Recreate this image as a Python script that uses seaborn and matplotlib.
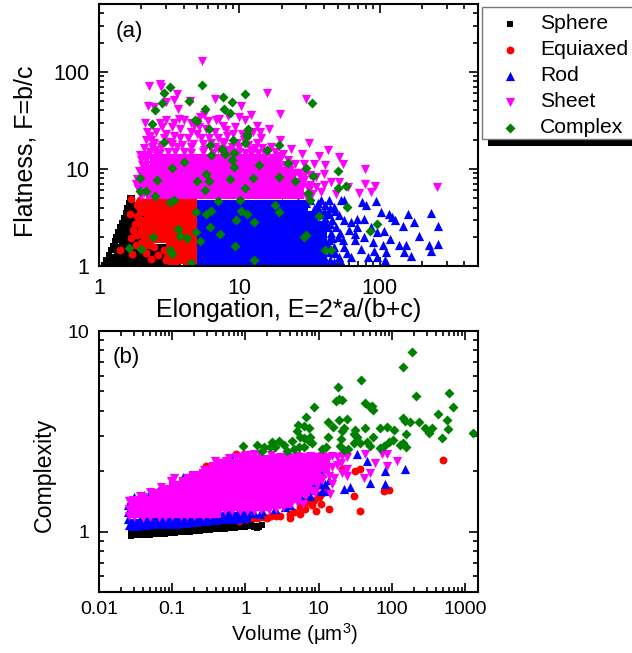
import matplotlib
matplotlib.use("Agg")
import matplotlib.pyplot as plt
import pandas as pd
import seaborn as sns
from matplotlib.patches import Rectangle
from matplotlib.ticker import FormatStrFormatter, LogLocator, NullFormatter

# Panel (a): (elongation, flatness). The *_CORE lists are the saturated parts of
# each cloud, where thousands of points overlap; they get a bigger square marker.
A_SPHERE_CORE = [(1.3,1.12),(1.55,1.12),(1.85,1.12),(2.2,1.12),(2.6,1.12),(3.05,1.12),(3.5,1.12),
    (1.42,1.45),(1.7,1.45),(2.0,1.45),(2.35,1.45),(2.7,1.45),(3.1,1.45),(1.52,1.9),(1.8,1.9),(2.1,1.9),
    (1.6,2.45),(1.9,2.45),(1.7,3.15),(1.95,3.15),(1.8,3.9)]
A_SPHERE = [(1.09,1.03),(1.12,1.15),(1.17,1.3),(1.21,1.45),(1.25,1.62),(1.29,1.8),(1.33,2.0),
    (1.37,2.25),(1.41,2.5),(1.46,2.8),(1.5,3.15),(1.55,3.55),(1.59,4.0),(1.63,4.5),(1.67,5.0),
    (1.72,4.7),(1.75,4.2),(1.2,1.05),(1.24,1.25),(1.3,1.55),(1.38,1.85),(1.45,2.3),(1.52,2.7),
    (1.58,3.4),(1.66,4.3),(1.63,3.1),(1.68,3.7),(1.72,5.0)]
A_EQUI_CORE = [(2.3,4.2),(2.75,4.2),(3.3,4.2),(3.95,4.2),(4.5,4.2),(2.3,3.3),(2.75,3.3),(3.3,3.3),
    (3.95,3.3),(4.5,3.3),(2.3,2.6),(2.75,2.6),(3.3,2.6),(3.95,2.6),(4.5,2.6),(2.3,2.0),(2.75,2.0),
    (3.3,2.0),(3.95,2.0),(4.5,2.0),(3.3,1.55),(3.95,1.55),(4.5,1.55),(3.6,1.2),(4.1,1.2),(4.5,1.2)]
A_EQUI = [(1.69,4.9),(1.93,4.56),(1.66,3.43),(1.74,2.35),(1.69,1.94),(1.9,2.84),(1.99,2.24),
    (1.83,1.65),(1.41,1.46),(1.72,1.33),(2.16,1.36),(1.99,1.72),(2.34,1.18),(3.0,1.15),(3.26,1.07),
    (3.7,1.15),(2.63,1.3),(2.46,1.57),(2.23,3.2),(2.09,3.78),(2.1,4.6),(1.95,3.9),(2.05,2.9),
    (2.3,1.65),(2.9,1.45),(3.05,1.25),(3.5,1.05),(4.2,1.05),(4.6,1.05),(2.1,2.0),(1.85,2.1),(2.15,1.65),
    (2,4.3),(2,3.6),(2,3),(2,2.5),(1.85,4.2),(1.85,3.3),(1.8,2.7),(2.1,2.45),(2.15,1.9),(1.95,4.8),(2.15,4.2)]
A_ROD_CORE = [(5.5,4.15),(6.6,4.15),(7.9,4.15),(9.5,4.15),(11.4,4.15),(13.7,4.15),(16.4,4.15),(19.7,4.15),(23.6,4.15),(28,4.15),
    (5.5,3.2),(6.6,3.2),(7.9,3.2),(9.5,3.2),(11.4,3.2),(13.7,3.2),(16.4,3.2),(19.7,3.2),(23.6,3.2),(28,3.2),(33,3.2),
    (5.5,2.5),(6.6,2.5),(7.9,2.5),(9.5,2.5),(11.4,2.5),(13.7,2.5),(16.4,2.5),(19.7,2.5),(23.6,2.5),(28,2.5),(33,2.5),(38,2.5),
    (5.5,1.92),(6.6,1.92),(7.9,1.92),(9.5,1.92),(11.4,1.92),(13.7,1.92),(16.4,1.92),(19.7,1.92),(23.6,1.92),(28,1.92),(33,1.92),(38,1.92),
    (5.5,1.48),(6.6,1.48),(7.9,1.48),(9.5,1.48),(11.4,1.48),(13.7,1.48),(16.4,1.48),(19.7,1.48),(23.6,1.48),(28,1.48),(33,1.48),(38,1.48),
    (5.5,1.14),(6.6,1.14),(7.9,1.14),(9.5,1.14),(11.4,1.14),(13.7,1.14),(16.4,1.14),(19.7,1.14),(23.6,1.14),(28,1.14),(33,1.14),(38,1.14)]
A_ROD = [(5.3,4.35),(6,4.4),(7,4.3),(8,4.4),(9.2,4.35),(10.5,4.4),(12,4.3),(13.5,4.4),(15.5,4.35),(17.5,4.4),
    (20,4.5),(23,4.4),(26,4.6),(30,4.5),(75,4.57),(79.6,4.22),(94,4.64),(102,3.6),(116,3.46),(123,3.2),(128,2.96),
    (159,3.46),(231,3.52),(174,2.84),(145,2.59),(260,2.59),(190,2.02),(260,1.7),(224,1.66),(231,1.43),(137,1.63),
    (153,1.63),(149,1.39),(166,1.26),(107,2.28),(95,2.24),(118,1.88),(106,1.63),(110,1.39),(109,1.16),(96,1.24),
    (91,1.43),(90,1.77),(77,1.99),(86,2.52),(77,3.08),(69,3.08),(62,2.84),(69,2.52),(60,2.33),(67,2.15),(67,1.84),
    (73,1.51),(62,1.24),(82,1.24),(56,1.57),(52.6,4.75),(43.6,4.75),(56,4.75),(51,3.33),(56,2.96),(48.5,2.52),
    (50,1.99),(47,1.57),(51,1.24),(43.6,3.46),(43.6,1.84),(40,1.24),(38,4.75),(40,2.96),(32,4.75),(36,4.0),(40,3.7),
    (45,2.2),(44,1.4),(42,2.5),(46,3.0),(47,4.1),(52,2.2),(55,1.85),(58,1.35),(38,3.4),(34,3.9),(40,1.1),(47,1.1),
    (36,4.5),(41,4.2),(44,4.0),(48,3.7),(35,3.6),(41,3.1),(44,2.7),(46,1.95),(43,1.65),(48,1.35),(44,1.15),(53,1.1)]
A_SHEET_CORE = [(2.4,5.6),(2.9,5.6),(3.5,5.6),(4.2,5.6),(5,5.6),(6,5.6),(7.2,5.6),(8.6,5.6),(10.4,5.6),(12.4,5.6),(15,5.6),(18,5.6),(21.5,5.6),(26,5.6),
    (2.4,7.3),(2.9,7.3),(3.5,7.3),(4.2,7.3),(5,7.3),(6,7.3),(7.2,7.3),(8.6,7.3),(10.4,7.3),(12.4,7.3),(15,7.3),(18,7.3),(21.5,7.3),(26,7),
    (2.4,9.5),(2.9,9.5),(3.5,9.5),(4.2,9.5),(5,9.5),(6,9.5),(7.2,9.5),(8.6,9.5),(10.4,9.5),(12.4,9.5),(15,9.5),(18,9.5),(21.5,9),
    (2.55,12.3),(2.9,12.3),(3.5,12.3),(4.2,12.3),(5,12.3),(6,12.3),(7.2,12.3),(8.6,12.3),(10.4,12.3),(12.4,12.3),(15,11.2),(18,10.5)]
A_SHEET = [(5.45,129),(2.27,71),(2.72,75.6),(2.78,69),(3.6,59),(3.4,51),(3,49),(2.24,44),(2.47,43),(3.66,41),(4.43,50),
    (6.7,52),(10.3,45),(15.6,60),(29.7,52),(19.6,37),(5.6,36),(9.9,34.4),(6.78,31.9),(2.11,30),(3,32),(3.42,30),(4,32),
    (4.75,28),(5.8,26),(7.6,28),(9.3,27),(13.4,28),(16.2,26),(2.83,27),(2.53,24),(2.2,24),(3,23),(3.8,26),(4.5,24),
    (5.16,27),(6.1,21),(7,21),(8.2,22),(11.7,22),(14.2,21),(19.5,20),(31.4,18.5),(23.3,15.9),(28,14.2),(36.9,13.6),
    (42.9,15.6),(51,13.3),(54.6,11.2),(78.6,10),(41,10.9),(34,11.3),(29,11.3),(25,11.3),(32,8.6),(40,8.9),(51,7.3),
    (44.6,7.3),(40,6.8),(78.6,7.06),(93,6.6),(87,5.8),(71,5.65),(59,6.5),(49,5.55),(257,6.5),(38,5.8),(31.4,6),
    (1.96,13.8),(1.98,12.3),(2.15,13.3),(2.03,10.9),(1.88,7.9),(1.82,7.06),(1.93,9.5),(2.47,18.3),(2.15,19.7),(2.33,19.7),
    (2.75,16.8),(3.2,19),(3.8,21),(5.3,21),(10.8,19.7),(13.4,18.3),(16.7,16.8),(20.3,14.4),(22,12.3),(17.7,12.3),(15,15),
    (6.25,18.3),(9.6,18.3),(7.78,18.3),(4.5,16.8),(3.6,16.8),(5.6,15.6),(12,15.6),(8.2,15.6),(7,16.2),(23,9.7),(26.7,9),
    (30.6,6.5),(24,7),(29.4,9),(35,8.2),(23.3,7.6),(2.1,6.5),(2.27,5.55),(2.15,8.2),(2,5.2),(2.5,15.5),(3.1,15),(4,15),
    (6.5,14.5),(9,14.5),(11,14.5),(14,13),(16,12),(19,10.5),(21,9.5),(27,7),(26,5.5),(30,5.3),(33,5.5),(29,7.6),
    (2.4,17),(2.8,17.5),(3.3,18),(3.9,17.5),(4.7,18),(5.5,18),(6.7,17),(7.5,19),(8.8,17),(10,17),(11.5,17.5),(13,16.5),
    (14.5,16.5),(16,15),(18,15),(19,13.5),(2.3,15),(2.7,14.5),(3.5,14.8),(4.5,14.5),(5.5,14.8),(7.5,14.5),(8.5,15),(10,14.8),
    (12,14.2),(13.5,14.5),(15,13),(17,13),(19,12),(21,11),(23,11),(25,9),(27,8.2),(24,8.5),(28,6.5),(32,6.8),(35,6.5),
    (2.9,21),(3.4,22),(4.3,21),(5,23),(6.7,24),(8,25),(9,23),(10.5,23),(12.5,24),(14,24),(2.3,22),(2.7,30),(3.3,27),(3.7,33),
    (4.5,30),(5.2,34),(6,31),(7.2,33),(8.3,35),(11,32),(12,36),(2.1,16.5),(2.05,8.5),(2.1,9.5),(2.05,7.2),(2.15,11),(2.15,12.5),
    (1.9,6.2),(2,6.8),(2.1,5.6),(2.2,7.3),(2.25,9.7),(2.25,14),(2.6,13.5),(15,11.5),(16.5,10.5),(18,11),(20,9.5),(22,8.4),(24,6.2)]
A_COMPLEX = [(5.4,74),(3.2,69.5),(2.9,61),(11,59),(2.83,48),(4.4,50),(7.7,55),(8.8,49),(33,48),(2.52,40),(5.7,41),(7.8,41),
    (8.5,38),(2.4,29),(4.84,32),(5,31),(6.1,25.6),(11.5,26),(11.3,23),(11.4,22),(9,20),(2.9,19),(11,18.5),(19.2,17.7),
    (6.15,17.5),(7.5,16.2),(15.6,15.7),(7.9,14.4),(6.3,14),(9.2,14.6),(8.8,12.3),(4,11.7),(22,11.6),(13.8,11),(9.1,10.4),
    (3.3,10.2),(30,10.2),(50.6,9.5),(5.8,8.8),(1.95,8.1),(12.5,8.1),(19,8.2),(33.5,8.5),(2.6,7.6),(5,7.5),(6.1,7.5),(8.5,7.8),
    (25,7.5),(1.95,5.9),(2.17,5.9),(2.5,5.3),(5.7,6),(10.9,6.3),(50,6.4),(57.7,6.6),(30.6,5.65),(3.2,4.6),(3.4,4.8),(7,4.7),
    (10.1,4.8),(17.8,4.3),(31.7,4.8),(58.8,4.05),(4.9,3.6),(5.75,3.46),(6.3,3.66),(10.3,3.7),(11.4,3.4),(19.2,3.63),(37,3.27),
    (9.5,3),(12.8,2.84),(3.66,2.4),(6.15,2.52),(95,2.69),(85,2.28),(4.9,2.24),(7.3,2.15),(3.8,2.02),(4.25,1.96),(2.44,2),
    (5.25,1.81),(29,1.99),(30,2.07),(9.3,1.6),(40.6,1.46),(44.6,1.45),(1.64,1.53),(2,1.5),(3.2,1.47),(3.3,1.34),(12.8,1.14),(4.5,1.08)]

# Panel (b): (volume, complexity)
B_SPHERE = [(.027,.955),(.0316,.957),(.037,.96),(.043,.963),(.05,.966),(.059,.97),(.069,.973),(.08,.977),(.094,.981),(.11,.985),
    (.129,.99),(.15,.995),(.176,1.0),(.206,1.004),(.24,1.01),(.28,1.015),(.33,1.02),(.386,1.025),(.45,1.03),(.53,1.036),(.62,1.042),
    (.72,1.048),(.85,1.055),(1.0,1.06),(1.15,1.065),
    (.027,1.0),(.0316,1.005),(.037,1.008),(.043,1.011),(.05,1.014),(.059,1.018),(.069,1.022),(.08,1.026),(.094,1.03),(.11,1.034),
    (.129,1.04),(.15,1.045),(.176,1.05),(.206,1.054),(.24,1.06),(.28,1.066),(.33,1.071),(.386,1.076),(.45,1.08),(.53,1.088),(.62,1.094),
    (.72,1.1),(.85,1.108),(1.0,1.113),(1.15,1.118),(1.4,1.07),(1.52,1.05),(1.69,1.08),(1.44,1.04),(1.2,1.09),(1.3,1.06)]
B_EQUI = [(504,2.28),(92,1.62),(78.6,1.6),(30,1.5),(37,1.26),(37,2.05),(31.6,2.01),(21,2.05),(13.8,1.3),(9.3,1.26),(10.6,1.38),
    (10,1.48),(8.6,1.43),(6.6,1.3),(5.6,1.23),(4.1,1.17),(4.1,1.22),(4.6,1.25),(2.2,1.19),(1.78,1.18),(1.44,1.17),(1.17,1.17),
    (.81,1.13),(.29,2.13),(.75,2.43),(.95,2.45),(10.6,1.54),(13,1.59),(3.0,1.2),(2.6,1.19),(1.95,1.17),(1.6,1.18),(1.3,1.17),(1.05,1.16),
    (5.5,1.33),(7,1.4),(8,1.35),(12,1.65),(6.5,1.42)]
B_ROD_CORE = [(.031,1.083),(.0425,1.09),(.058,1.1),(.0795,1.105),(.109,1.11),(.149,1.12),(.204,1.13),(.279,1.14),(.381,1.15),(.52,1.165),(.71,1.175),(.98,1.187)]
B_ROD = [(33,2.43),(152,2.05),(81,2.0),(45.6,2.25),(49.6,1.74),(81,1.73),(22,1.63),(26.4,1.67),(10.5,1.73),(12.3,1.73),(6.6,1.63),
    (4.1,1.69),(4,1.51),(4.1,1.36),(2.57,1.3),(.77,1.23),(.03,1.49),(.041,1.53),(.0495,1.56),(.064,1.6),(.079,1.64),(.096,1.64),
    (.14,1.88),(.198,1.88),(.49,2.13),(.655,2.31),(.025,1.35),(.025,1.25),(.025,1.15),(.026,1.08),(1.2,1.29),(1.7,1.27),(2.5,1.3),(3.5,1.33),
    (.3,1.22),(.45,1.24),(.6,1.25),(.16,1.2),(.22,1.2),(.1,1.17),(5.5,1.7),(7.5,1.85),(9,1.9),(14,1.8),(1.3,1.24),(1.6,1.22),
    (5,1.5),(6,1.45),(7.5,1.5),(9,1.62),(11,1.6),(8,1.75),(11,1.95),(13,1.6)]
B_SHEET_CORE = [(.031,1.257),(.031,1.41),(.0425,1.257),(.0425,1.41),(.058,1.257),(.058,1.41),(.058,1.53),
    (.0795,1.257),(.0795,1.41),(.0795,1.58),(.109,1.257),(.109,1.41),(.109,1.58),(.109,1.66),
    (.149,1.257),(.149,1.41),(.149,1.58),(.149,1.74),(.204,1.257),(.204,1.41),(.204,1.58),(.204,1.77),(.204,1.88),
    (.279,1.257),(.279,1.41),(.279,1.58),(.279,1.77),(.279,1.92),(.381,1.257),(.381,1.41),(.381,1.58),(.381,1.77),(.381,1.99),(.381,2.07),
    (.52,1.35),(.52,1.51),(.52,1.69),(.52,1.9),(.52,2.13),(.71,1.36),(.71,1.53),(.71,1.71),(.71,1.92),(.71,2.15),
    (.98,1.36),(.98,1.53),(.98,1.71),(.98,1.92),(.98,2.2),(1.34,1.36),(1.34,1.53),(1.34,1.71),(1.34,1.92),(1.34,2.15),(1.34,2.25),
    (1.83,1.36),(1.83,1.53),(1.83,1.71),(1.83,1.92),(1.83,2.15),(1.83,2.25),(2.5,1.39),(2.5,1.56),(2.5,1.74),(2.5,1.95),(2.5,2.18),(2.5,2.28),
    (3.43,1.41),(3.43,1.58),(3.43,1.77),(3.43,1.99),(3.43,2.2),(3.43,2.28),(4.7,1.48),(4.7,1.655),(4.7,1.86),(4.7,2.08),(4.7,2.28),
    (6.4,1.62),(6.4,1.81),(6.4,2.03),(6.4,2.28),(8.8,1.92),(8.8,2.15),(8.8,2.28),(12,2.13),(12,2.28)]
B_SHEET = [(.39,2.25),(1.3,2.45),(.095,1.78),(.105,1.85),(43.5,2.43),(59,2.19),(73,2.43),(85,2.45),(117,2.24),(85,2.13),(50.7,1.97),
    (41,1.86),(24.3,1.9),(21,1.95),(15,1.73),(14.4,1.54),(5.07,1.4),(6.2,1.37),(3,2.36),(3.8,2.36),(5,2.38),(6,2.36),(7.5,2.38),(9,2.36),
    (11,2.38),(13,2.36),(15,2.38),(18,2.36),(21,2.38),(24,2.36),(12,2.0),(14,1.9),(16,1.85),(11,1.8),(9.5,1.7),(8,1.6),(7,1.55),(18,2.15),
    (20,2.2),(15,2.1),(13,2.25),(24,2.05),(10,2.0),(.6,2.32),(.85,2.36),(1.1,2.4),(1.6,2.42),(2.2,2.42),(.45,2.2),(.27,2.02),
    (.16,1.85),(.07,1.66),(.05,1.58),(.036,1.5),(.026,1.42),(.026,1.3),(.026,1.2),
    (.03,1.42),(.04,1.48),(.09,1.63),(.12,1.7),(.22,1.88),(.3,1.98),(.4,2.1),(.55,2.25),(.75,2.35),(1,2.38),
    (.03,1.18),(.04,1.17),(.05,1.18),(.065,1.18),(.08,1.18),(.1,1.19),(.13,1.19),(.16,1.19),(.2,1.2),(.26,1.2),(.33,1.21),(.42,1.22),
    (.52,1.26),(.66,1.27),(.83,1.27),(1.05,1.27),(1.3,1.27),(1.65,1.28),(2.1,1.28),(2.6,1.3),(3.3,1.33),(4.2,1.38),(5.2,1.45),(6.5,1.52),
    (7.5,1.72),(8.5,1.78),(10,1.85),(9,1.55)]
B_COMPLEX = [(191,7.86),(144,6.6),(37.8,5.73),(18.2,5.24),(18.8,4.57),(17.5,4.49),(20.8,4.55),(43.5,4.4),(53,4.24),(56,4.03),(50,4.19),
    (214,4.73),(611,4.93),(692,4.19),(8.55,4.19),(424,3.85),(568,3.61),(141,3.67),(231,3.53),(178,3.5),(152,3.56),(285,3.3),(351,3.3),
    (325,3.11),(590,3.24),(491,2.92),(1300,3.1),(6.8,3.73),(5.17,3.41),(6.24,3.37),(5.07,3.18),(7.3,3.28),(4.28,2.84),(5.62,2.95),
    (6.24,2.92),(7.7,2.95),(7.3,2.84),(8.1,2.78),(13.3,3.53),(18.9,3.61),(24.6,3.64),(15.7,3.33),(22.4,3.28),(20.8,3.16),(42.4,3.29),
    (13.3,2.97),(31.6,3.2),(30,3.08),(33.3,2.95),(56,2.95),(69,3.28),(85,3.33),(107,3.2),(157,3.06),(105,2.86),(90,2.81),(77,2.68),
    (69,2.61),(130,2.71),(144,2.78),(157,2.63),(20,2.89),(19.7,2.68),(22,2.55),(25,2.58),(30,2.75),(37,2.78),(45.6,2.81),(50.7,2.68),
    (11,2.58),(12.6,2.65),(.92,2.68),(1.44,2.71),(1.78,2.63),(2.31,2.81),(2.85,2.84),(2.19,2.65),(3.32,2.71),(3.7,2.51),(4.57,2.58),
    (5.33,2.65),(6.24,2.63),(1.69,2.53),(2.57,2.65)]

SERIES_NAMES = ["Sphere", "Equiaxed", "Rod", "Sheet", "Complex"]
COLORS = ["black", "red", "blue", "magenta", "green"]
MARKERS = ["s", "o", "^", "v", "D"]
SIZES = [15, 32, 44, 44, 26]
CORE_SIZE = 78
FONT = "Liberation Sans"


def draw(ax, pts, idx, size=None, marker=None, label=None):
    df = pd.DataFrame(pts, columns=["x", "y"])
    sns.scatterplot(data=df, x="x", y="y", ax=ax, marker=marker or MARKERS[idx], color=COLORS[idx],
                    s=size or SIZES[idx], linewidth=0, legend=False, label=label)


def style_axes(ax, xlim, ylim, tick_size, x_pad):
    ax.set_xscale("log")
    ax.set_yscale("log")
    ax.set_xlim(*xlim)
    ax.set_ylim(*ylim)
    for axis in (ax.xaxis, ax.yaxis):
        axis.set_major_locator(LogLocator(base=10, numticks=12))
        axis.set_minor_locator(LogLocator(base=10, subs=range(2, 10), numticks=12))
        axis.set_major_formatter(FormatStrFormatter("%g"))
        axis.set_minor_formatter(NullFormatter())
    ax.tick_params(which="major", direction="in", length=6.5, width=1.2, top=True, right=True, labelsize=tick_size)
    ax.tick_params(which="minor", direction="in", length=3.6, width=1.2, top=True, right=True)
    ax.tick_params(axis="x", which="major", pad=x_pad)
    ax.tick_params(axis="y", which="major", pad=7)
    for sp in ax.spines.values():
        sp.set_linewidth(1.5)
        sp.set_visible(True)


sns.set_style("ticks", rc={"text.color": "black", "axes.labelcolor": "black", "xtick.color": "black",
                           "ytick.color": "black", "axes.edgecolor": "black"})
plt.rcParams["font.family"] = [FONT, "DejaVu Sans"]
plt.rcParams["mathtext.default"] = "regular"

W, H = 632, 653
fig = plt.figure(figsize=(W / 100, H / 100), dpi=100)
ax_a = fig.add_axes([99 / W, 1 - 266 / H, 379 / W, 262 / H])
ax_b = fig.add_axes([99 / W, 1 - 592 / H, 379 / W, 261 / H])

draw(ax_a, A_SPHERE_CORE, 0, CORE_SIZE, "s")
draw(ax_a, A_SPHERE, 0, label=SERIES_NAMES[0])
draw(ax_a, A_EQUI_CORE, 1, CORE_SIZE, "s")
draw(ax_a, A_EQUI, 1, label=SERIES_NAMES[1])
draw(ax_a, A_ROD_CORE, 2, CORE_SIZE, "s")
draw(ax_a, A_ROD, 2, label=SERIES_NAMES[2])
draw(ax_a, A_SHEET_CORE, 3, CORE_SIZE, "s")
draw(ax_a, A_SHEET, 3, label=SERIES_NAMES[3])
draw(ax_a, A_COMPLEX, 4, label=SERIES_NAMES[4])

draw(ax_b, B_SPHERE, 0)
draw(ax_b, B_EQUI, 1)
draw(ax_b, B_ROD_CORE, 2, CORE_SIZE, "s")
draw(ax_b, B_ROD, 2)
draw(ax_b, B_SHEET_CORE, 3, CORE_SIZE, "s")
draw(ax_b, B_SHEET, 3)
draw(ax_b, B_COMPLEX, 4)

style_axes(ax_a, (1, 500), (1, 500), 15.5, 8.6)
style_axes(ax_b, (0.01, 1500), (0.5, 10), 14, 6.5)

ax_a.set_xlabel("Elongation, E=2*a/(b+c)", fontsize=18, va="center")
ax_a.set_ylabel("Flatness, F=b/c", fontsize=18, va="center")
ax_b.set_xlabel("Volume (\u03bcm$^{3}$)", fontsize=14.8, va="center")
ax_b.set_ylabel("Complexity", fontsize=16.7, va="center")
ax_a.xaxis.set_label_coords(288.5 / W, 1 - 310 / H, transform=fig.transFigure)
ax_a.yaxis.set_label_coords(26 / W, 1 - 151 / H, transform=fig.transFigure)
ax_b.xaxis.set_label_coords(295 / W, 1 - 634 / H, transform=fig.transFigure)
ax_b.yaxis.set_label_coords(44 / W, 1 - 475 / H, transform=fig.transFigure)
ax_a.text(116 / W, 1 - 32 / H, "(a)", transform=fig.transFigure, fontsize=16, va="center")
ax_b.text(113 / W, 1 - 358 / H, "(b)", transform=fig.transFigure, fontsize=16, va="center")

# legend box and its solid drop shadow are drawn by hand, the legend only holds the rows
fig.add_artist(Rectangle((488 / W, 1 - 146 / H), 150 / W, 10 / H, transform=fig.transFigure,
                         facecolor="black", edgecolor="none", zorder=4))
fig.add_artist(Rectangle((482 / W, 1 - 139 / H), 160 / W, 132 / H, transform=fig.transFigure,
                         facecolor="white", edgecolor="#777777", linewidth=1, zorder=4.5))
handles, labels = ax_a.get_legend_handles_labels()
leg = fig.legend(handles, labels, loc="upper left", bbox_to_anchor=(480 / W, 1 - 9 / H), borderaxespad=0,
                 fontsize=15.2, frameon=False, labelspacing=0.33,
                 handletextpad=0.29, borderpad=0.25, handlelength=2.3)
leg.set_zorder(5)

fig.savefig("out.png", dpi=100)
